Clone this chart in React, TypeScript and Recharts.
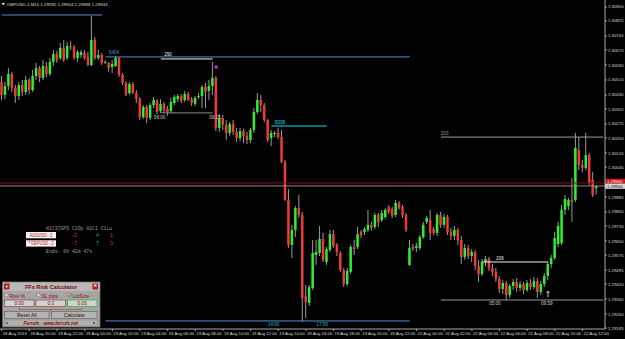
import React from 'react'
import { ComposedChart, Bar, XAxis, YAxis, ReferenceLine, ReferenceDot } from 'recharts'

const FONT = '"Liberation Sans", Arial, sans-serif'
const MONO = '"Liberation Mono", "DejaVu Sans Mono", monospace'

const UP = '#2cf02c'
const DOWN = '#f03a3a'
const WICK = '#9a9a9a'
const AXIS = '#a8a8a8'
const TXT = '#dcdcdc'

const titleText = 'GBPUSD-2,M15  1.29932 1.29944 1.29898 1.29944'

// time labels, one every 8 bars (2 hours of M15)
const xTickLabels = [
  '18 Aug 2016', '18 Aug 20:00', '18 Aug 22:00', '19 Aug 00:00', '19 Aug 02:00', '19 Aug 04:00',
  '19 Aug 06:00', '19 Aug 08:00', '19 Aug 10:00', '19 Aug 12:00', '19 Aug 14:00', '19 Aug 16:00',
  '19 Aug 18:00', '19 Aug 20:00', '19 Aug 22:00', '22 Aug 00:00', '22 Aug 02:00', '22 Aug 04:00',
  '22 Aug 06:00', '22 Aug 08:00', '22 Aug 10:00', '22 Aug 12:00',
]

const priceTicks = [
  1.309, 1.30825, 1.30745, 1.3067, 1.3059, 1.3051, 1.3043, 1.30355, 1.30275, 1.302, 1.3012,
  1.30045, 1.29885, 1.29805, 1.2973, 1.2965, 1.29575, 1.29495, 1.2942, 1.2934, 1.2926, 1.29185,
]

const opens = [
  1.30499, 1.30430, 1.30478, 1.30542, 1.30467, 1.30424, 1.30483, 1.30446, 1.30510, 1.30456,
  1.30531, 1.30574, 1.30521, 1.30585, 1.30542, 1.30606, 1.30649, 1.30627, 1.30681, 1.30627,
  1.30691, 1.30686, 1.30627, 1.30643, 1.30654, 1.30633, 1.30590, 1.30723, 1.30627, 1.30643,
  1.30601, 1.30601, 1.30579, 1.30585, 1.30627, 1.30537, 1.30494, 1.30440, 1.30488, 1.30440,
  1.30408, 1.30312, 1.30366, 1.30307, 1.30376, 1.30398, 1.30344, 1.30382, 1.30355, 1.30344,
  1.30387, 1.30408, 1.30424, 1.30403, 1.30435, 1.30408, 1.30382, 1.30419, 1.30424, 1.30472,
  1.30451, 1.30478, 1.30521, 1.30254, 1.30307, 1.30270, 1.30227, 1.30275, 1.30232, 1.30200,
  1.30237, 1.30211, 1.30189, 1.30243, 1.30339, 1.30403, 1.30376, 1.30296, 1.30200, 1.30221,
  1.30227, 1.30205, 1.30072, 1.29869, 1.29629, 1.29709, 1.29826, 1.29789, 1.29356, 1.29319,
  1.29399, 1.29575, 1.29586, 1.29661, 1.29538, 1.29602, 1.29687, 1.29629, 1.29586, 1.29495,
  1.29420, 1.29485, 1.29618, 1.29618, 1.29698, 1.29698, 1.29709, 1.29736, 1.29725, 1.29789,
  1.29762, 1.29778, 1.29832, 1.29821, 1.29789, 1.29853, 1.29832, 1.29789, 1.29522, 1.29618,
  1.29613, 1.29613, 1.29671, 1.29752, 1.29762, 1.29714, 1.29693, 1.29789, 1.29736, 1.29778,
  1.29698, 1.29677, 1.29709, 1.29655, 1.29565, 1.29613, 1.29570, 1.29591, 1.29517, 1.29474,
  1.29538, 1.29554, 1.29506, 1.29485, 1.29447, 1.29394, 1.29426, 1.29362, 1.29410, 1.29431,
  1.29399, 1.29420, 1.29388, 1.29426, 1.29404, 1.29436, 1.29378, 1.29420, 1.29463, 1.29527,
  1.29559, 1.29634, 1.29639, 1.29816, 1.29837, 1.29869, 1.29869, 1.30136, 1.30056, 1.30040,
  1.30109, 1.29976, 1.29932,
]

const highs = [
  1.30531, 1.30499, 1.30574, 1.30553, 1.30483, 1.30499, 1.30510, 1.30531, 1.30521, 1.30563,
  1.30601, 1.30585, 1.30617, 1.30606, 1.30627, 1.30670, 1.30665, 1.30707, 1.30723, 1.30713,
  1.30718, 1.30697, 1.30670, 1.30670, 1.30670, 1.30659, 1.30852, 1.30739, 1.30670, 1.30654,
  1.30617, 1.30606, 1.30617, 1.30638, 1.30633, 1.30547, 1.30504, 1.30499, 1.30499, 1.30456,
  1.30419, 1.30376, 1.30376, 1.30387, 1.30419, 1.30408, 1.30408, 1.30392, 1.30371, 1.30414,
  1.30430, 1.30435, 1.30435, 1.30451, 1.30446, 1.30419, 1.30424, 1.30440, 1.30483, 1.30494,
  1.30510, 1.30606, 1.30531, 1.30328, 1.30323, 1.30296, 1.30286, 1.30296, 1.30254, 1.30254,
  1.30248, 1.30232, 1.30254, 1.30360, 1.30440, 1.30430, 1.30387, 1.30302, 1.30243, 1.30237,
  1.30254, 1.30243, 1.30083, 1.29928, 1.29736, 1.29837, 1.29896, 1.29805, 1.29415, 1.29415,
  1.29655, 1.29655, 1.29730, 1.29693, 1.29618, 1.29709, 1.29709, 1.29639, 1.29597, 1.29506,
  1.29506, 1.29629, 1.29655, 1.29725, 1.29709, 1.29725, 1.29816, 1.29752, 1.29800, 1.29800,
  1.29816, 1.29826, 1.29842, 1.29832, 1.29869, 1.29864, 1.29842, 1.29800, 1.29655, 1.29634,
  1.29639, 1.29682, 1.29752, 1.29784, 1.29816, 1.29725, 1.29800, 1.29805, 1.29794, 1.29789,
  1.29720, 1.29730, 1.29720, 1.29677, 1.29634, 1.29629, 1.29607, 1.29602, 1.29549, 1.29554,
  1.29570, 1.29565, 1.29527, 1.29506, 1.29463, 1.29442, 1.29436, 1.29420, 1.29447, 1.29452,
  1.29436, 1.29431, 1.29442, 1.29447, 1.29458, 1.29452, 1.29436, 1.29479, 1.29538, 1.29575,
  1.29698, 1.29752, 1.29842, 1.29896, 1.29880, 1.29987, 1.30227, 1.30205, 1.30083, 1.30227,
  1.30120, 1.30019, 1.29944,
]

const lows = [
  1.30403, 1.30408, 1.30456, 1.30446, 1.30387, 1.30403, 1.30424, 1.30430, 1.30435, 1.30446,
  1.30510, 1.30499, 1.30510, 1.30526, 1.30531, 1.30585, 1.30601, 1.30617, 1.30606, 1.30617,
  1.30670, 1.30617, 1.30606, 1.30627, 1.30617, 1.30585, 1.30585, 1.30617, 1.30617, 1.30590,
  1.30595, 1.30553, 1.30547, 1.30579, 1.30526, 1.30483, 1.30424, 1.30430, 1.30435, 1.30387,
  1.30296, 1.30302, 1.30280, 1.30296, 1.30360, 1.30328, 1.30334, 1.30334, 1.30318, 1.30334,
  1.30376, 1.30392, 1.30387, 1.30392, 1.30398, 1.30371, 1.30371, 1.30408, 1.30360, 1.30360,
  1.30403, 1.30430, 1.30237, 1.30232, 1.30243, 1.30189, 1.30211, 1.30216, 1.30179, 1.30184,
  1.30173, 1.30168, 1.30173, 1.30227, 1.30328, 1.30339, 1.30286, 1.30179, 1.30157, 1.30205,
  1.30195, 1.30067, 1.29864, 1.29613, 1.29559, 1.29671, 1.29773, 1.29218, 1.29239, 1.29303,
  1.29388, 1.29522, 1.29570, 1.29538, 1.29522, 1.29591, 1.29613, 1.29570, 1.29485, 1.29404,
  1.29410, 1.29474, 1.29575, 1.29607, 1.29666, 1.29682, 1.29698, 1.29703, 1.29714, 1.29725,
  1.29752, 1.29768, 1.29794, 1.29773, 1.29778, 1.29816, 1.29773, 1.29698, 1.29517, 1.29597,
  1.29591, 1.29602, 1.29661, 1.29741, 1.29655, 1.29682, 1.29677, 1.29720, 1.29720, 1.29682,
  1.29655, 1.29655, 1.29629, 1.29527, 1.29549, 1.29554, 1.29538, 1.29495, 1.29431, 1.29463,
  1.29517, 1.29490, 1.29463, 1.29431, 1.29372, 1.29367, 1.29335, 1.29346, 1.29388, 1.29378,
  1.29383, 1.29367, 1.29378, 1.29388, 1.29394, 1.29346, 1.29362, 1.29404, 1.29442, 1.29506,
  1.29549, 1.29618, 1.29629, 1.29789, 1.29816, 1.29752, 1.29858, 1.30029, 1.30019, 1.30029,
  1.29949, 1.29885, 1.29898,
]

const closes = [
  1.30430, 1.30478, 1.30542, 1.30467, 1.30424, 1.30483, 1.30446, 1.30510, 1.30456, 1.30531,
  1.30574, 1.30521, 1.30585, 1.30542, 1.30606, 1.30649, 1.30617, 1.30681, 1.30617, 1.30691,
  1.30686, 1.30627, 1.30659, 1.30659, 1.30627, 1.30590, 1.30723, 1.30627, 1.30643, 1.30601,
  1.30606, 1.30574, 1.30595, 1.30627, 1.30537, 1.30494, 1.30430, 1.30488, 1.30440, 1.30408,
  1.30312, 1.30366, 1.30307, 1.30376, 1.30403, 1.30339, 1.30382, 1.30350, 1.30339, 1.30392,
  1.30419, 1.30424, 1.30398, 1.30435, 1.30403, 1.30387, 1.30414, 1.30424, 1.30472, 1.30446,
  1.30478, 1.30521, 1.30254, 1.30307, 1.30270, 1.30227, 1.30275, 1.30232, 1.30200, 1.30237,
  1.30211, 1.30189, 1.30243, 1.30339, 1.30403, 1.30376, 1.30296, 1.30189, 1.30227, 1.30227,
  1.30205, 1.30072, 1.29869, 1.29629, 1.29709, 1.29826, 1.29789, 1.29346, 1.29324, 1.29404,
  1.29586, 1.29591, 1.29661, 1.29549, 1.29607, 1.29687, 1.29623, 1.29591, 1.29495, 1.29420,
  1.29490, 1.29618, 1.29607, 1.29687, 1.29682, 1.29714, 1.29736, 1.29720, 1.29789, 1.29752,
  1.29800, 1.29816, 1.29805, 1.29784, 1.29853, 1.29826, 1.29789, 1.29709, 1.29613, 1.29607,
  1.29623, 1.29671, 1.29736, 1.29773, 1.29693, 1.29693, 1.29789, 1.29736, 1.29778, 1.29698,
  1.29677, 1.29709, 1.29655, 1.29565, 1.29613, 1.29570, 1.29591, 1.29517, 1.29474, 1.29538,
  1.29554, 1.29506, 1.29485, 1.29447, 1.29394, 1.29426, 1.29362, 1.29410, 1.29431, 1.29399,
  1.29420, 1.29388, 1.29426, 1.29404, 1.29436, 1.29378, 1.29420, 1.29463, 1.29527, 1.29559,
  1.29666, 1.29730, 1.29816, 1.29874, 1.29869, 1.29858, 1.30147, 1.30056, 1.30040, 1.30109,
  1.29960, 1.29896, 1.29944,
]

const bid = 1.29944
const ask = 1.2996
const SLOTS = 175 // bars plus the empty room before the price scale

const data = Array.from({ length: SLOTS }, (_, i) =>
  i < closes.length
    ? { i, o: opens[i], h: highs[i], l: lows[i], c: closes[i], range: [lows[i], highs[i]] }
    : { i }
)

function Candle(props: any) {
  const { x, y, width, height, payload } = props
  if (payload == null || payload.o == null) return null
  const top = Math.min(y, y + height)
  const full = Math.abs(height)
  const cx = x + width / 2
  const span = payload.h - payload.l
  const k = span > 0 ? full / span : 0
  const yo = top + (payload.h - payload.o) * k
  const yc = top + (payload.h - payload.c) * k
  const up = payload.c >= payload.o
  return (
    <g>
      <line x1={cx} x2={cx} y1={top} y2={top + full} stroke={WICK} strokeWidth={1} />
      <rect x={cx - 1.25} y={Math.min(yo, yc)} width={2.5} height={Math.max(Math.abs(yc - yo), 0.9)} fill={up ? UP : DOWN} />
    </g>
  )
}

function TimeTick({ x, y, payload }: any) {
  const label = xTickLabels[payload.value / 8]
  if (!label) return null
  return (
    <text x={x + 1} y={y + 3.2} fontSize={4.3} fill={TXT} fontFamily={FONT}>
      {label}
    </text>
  )
}

const note = (text: string, color: string, size = 4.6) => (p: any) => (
  <text x={p.cx} y={p.cy} fill={color} fontSize={size} fontFamily={FONT}>
    {text}
  </text>
)

const priceTag = (text: string, bg: string, fg: string, dy: number) => (p: any) => {
  const vb = p.viewBox
  const x = vb.x + vb.width
  return (
    <g>
      <rect x={x} y={vb.y + dy} width={20} height={5.2} fill={bg} />
      <text x={x + 2} y={vb.y + dy + 4.1} fontSize={4.3} fill={fg} fontFamily={FONT}>
        {text}
      </text>
    </g>
  )
}

function Overlays() {
  return (
    <svg width={625} height={339} style={{ position: 'absolute', left: 0, top: 0, pointerEvents: 'none' }}>
      {/* title */}
      <path d="M1.5 3 L5 3 L3.25 5.5 Z" fill="#e0e0e0" />
      <text x={7} y={6.2} fontSize={4.4} fill={TXT} fontFamily={FONT}>{titleText}</text>

      {/* symbol strength block */}
      <g fontFamily={MONO} fontSize={4.8}>
        <text x={46} y={230} fill="#9c9c9c">H1[3]GPS C1Op H1C1 C1Lo</text>
        <rect x={26} y={232} width={30} height={6.3} fill="#f2f2f2" />
        <text x={41} y={236.9} fill="#e03030" textAnchor="middle">AUDUSD-2</text>
        <rect x={26} y={240.3} width={30} height={6.3} fill="#f2f2f2" />
        <text x={41} y={245.2} fill="#e03030" textAnchor="middle">*GBPUSD-2</text>
        <text x={71} y={237} fill="#e03030">-2</text>
        <text x={96} y={237} fill="#22c022">4</text>
        <text x={110} y={237} fill="#e03030">1</text>
        <text x={71} y={245.3} fill="#e03030">-7</text>
        <text x={96} y={245.3} fill="#22c022">7</text>
        <text x={110} y={245.3} fill="#e03030">3</text>
        <text x={46} y={253} fill="#9c9c9c">Ends: 0h 42m 47s</text>
      </g>

      {/* risk calculator panel */}
      <g fontFamily={FONT}>
        <rect x={2.5} y={282} width={97.5} height={45} fill="#a6a6a6" stroke="#6a6a6a" strokeWidth={0.8} />
        <rect x={3} y={282.5} width={96.5} height={8.5} fill="#b9b9b9" />
        <rect x={4} y={283.5} width={5.5} height={6} fill="#b01e1e" />
        <circle cx={6.75} cy={286.5} r={1} fill="#f0f0f0" />
        <rect x={92.5} y={283.5} width={5.5} height={6} fill="#b01e1e" />
        <rect x={94} y={284.5} width={2.5} height={2} fill="#f0f0f0" />
        <text x={51} y={289} fontSize={5.6} fontWeight="bold" fill="#7a0a0a" textAnchor="middle">FFx Risk Calculator</text>

        <rect x={5} y={293.5} width={3} height={3} fill="#d8d8d8" stroke="#6a6a6a" strokeWidth={0.4} />
        <text x={9.5} y={297.5} fontSize={5} fill="#8e1010">Risk %</text>
        <rect x={37} y={293.5} width={3} height={3} fill="#d8d8d8" stroke="#6a6a6a" strokeWidth={0.4} />
        <text x={41.5} y={297.5} fontSize={5} fill="#8e1010">SL pips</text>
        <rect x={68} y={293.5} width={3} height={3} fill="#d8d8d8" stroke="#6a6a6a" strokeWidth={0.4} />
        <path d="M68.5 295 L69.5 296.2 L71.2 293.8" stroke="#202020" strokeWidth={0.6} fill="none" />
        <text x={72.5} y={297.5} fontSize={5} fill="#8e1010">LotSize</text>

        <rect x={4.5} y={300} width={29.5} height={6.5} fill="#d2d2d2" stroke="#8e3030" strokeWidth={0.6} />
        <text x={19.25} y={305} fontSize={4.8} fill="#7a0a0a" textAnchor="middle">0.00</text>
        <rect x={36} y={300} width={29.5} height={6.5} fill="#d2d2d2" stroke="#8e3030" strokeWidth={0.6} />
        <text x={50.75} y={305} fontSize={4.8} fill="#7a0a0a" textAnchor="middle">0.0</text>
        <rect x={67.5} y={300} width={29.5} height={6.5} fill="#d2d2d2" stroke="#22c022" strokeWidth={0.8} />
        <text x={82.25} y={305} fontSize={4.8} fill="#7a0a0a" textAnchor="middle">0.00</text>

        <path d="M19 307.5 V309.5 H82 V307.5 M50.5 309.5 V311" stroke="#8e3030" strokeWidth={0.5} fill="none" />

        <rect x={4.5} y={311.5} width={44.5} height={7} fill="#b4b4b4" stroke="#5a5a5a" strokeWidth={0.6} />
        <text x={26.75} y={316.8} fontSize={5} fill="#3a0505" textAnchor="middle">Reset All</text>
        <rect x={51.5} y={311.5} width={45.5} height={7} fill="#b4b4b4" stroke="#5a5a5a" strokeWidth={0.6} />
        <text x={74.25} y={316.8} fontSize={5} fill="#3a0505" textAnchor="middle">Calculate</text>

        <rect x={4.5} y={320} width={92.5} height={6} fill="#b0b0b0" stroke="#8a8a8a" strokeWidth={0.5} />
        <rect x={6} y={322.3} width={2} height={1.5} fill="#b01e1e" />
        <rect x={93} y={322.3} width={2} height={1.5} fill="#b01e1e" />
        <text x={50.75} y={324.7} fontSize={4.6} fontWeight="bold" fontStyle="italic" fill="#8e0a0a" textAnchor="middle">
          Ferrufx - www.ferrufx.net
        </text>
      </g>
    </svg>
  )
}

export default function App() {
  return (
    <div style={{ position: 'absolute', left: 0, top: 0, width: 625, height: 339, background: '#000', overflow: 'hidden' }}>
      <ComposedChart width={625} height={339} data={data} margin={{ top: 0, right: 0, bottom: 0, left: 0 }} barCategoryGap={0}>
        <XAxis
          dataKey="i"
          interval={7}
          height={10}
          tick={<TimeTick />}
          tickSize={2}
          tickMargin={1}
          tickLine={{ stroke: AXIS }}
          axisLine={{ stroke: AXIS }}
        />
        <YAxis
          orientation="right"
          width={20}
          type="number"
          domain={[1.2918, 1.30937]}
          allowDataOverflow
          ticks={priceTicks}
          interval={0}
          tickFormatter={(v: number) => v.toFixed(5)}
          tick={{ fontSize: 4.3, fill: TXT, fontFamily: FONT }}
          tickSize={2}
          tickMargin={1}
          tickLine={{ stroke: AXIS }}
          axisLine={{ stroke: AXIS }}
        />

        <ReferenceLine y={ask} stroke="#8a1010" label={priceTag('1.29960', '#c81414', '#ffffff', -4.2)} />
        <ReferenceLine y={bid} stroke="#8c8c8c" label={priceTag('1.29944', '#d8d8d8', '#000000', -2.3)} />

        <ReferenceLine segment={[{ x: 0, y: 1.30857 }, { x: 29, y: 1.30857 }]} stroke="#4d8fd6" />
        <ReferenceLine segment={[{ x: 30, y: 1.30633 }, { x: 118, y: 1.30633 }]} stroke="#4d8fd6" />
        <ReferenceLine segment={[{ x: 46, y: 1.30622 }, { x: 61, y: 1.30622 }]} stroke="#f0f0f0" />
        <ReferenceLine segment={[{ x: 46, y: 1.30334 }, { x: 61, y: 1.30334 }]} stroke="#8c8c8c" />
        <ReferenceLine segment={[{ x: 78, y: 1.30264 }, { x: 94, y: 1.30264 }]} stroke="#10e0f0" />
        <ReferenceLine segment={[{ x: 127, y: 1.30205 }, { x: 174, y: 1.30205 }]} stroke="#9a9a9a" />
        <ReferenceLine segment={[{ x: 127, y: 1.29335 }, { x: 174, y: 1.29335 }]} stroke="#9a9a9a" />
        <ReferenceLine segment={[{ x: 139, y: 1.29538 }, { x: 158, y: 1.29538 }]} stroke="#f0f0f0" />
        <ReferenceLine segment={[{ x: 30, y: 1.29223 }, { x: 118, y: 1.29223 }]} stroke="#4d8fd6" />

        <Bar dataKey="range" shape={<Candle />} isAnimationActive={false} />

        <ReferenceDot x={31} y={1.30649} shape={note('5404', '#4d8fd6')} />
        <ReferenceDot x={47} y={1.30638} shape={note('290', '#f0f0f0')} />
        <ReferenceDot x={44} y={1.30302} shape={note('06:00', '#cfcfcf')} />
        <ReferenceDot x={60} y={1.30302} shape={note('09:15', '#cfcfcf')} />
        <ReferenceDot x={79} y={1.30275} shape={note('5036', '#10e0f0')} />
        <ReferenceDot x={127} y={1.30216} shape={note('333', '#9a9a9a')} />
        <ReferenceDot x={143} y={1.29549} shape={note('206', '#f0f0f0')} />
        <ReferenceDot x={141} y={1.29308} shape={note('05:00', '#cfcfcf')} />
        <ReferenceDot x={156} y={1.29308} shape={note('09:59', '#cfcfcf')} />
        <ReferenceDot x={77} y={1.29196} shape={note('14:00', '#22b8c0')} />
        <ReferenceDot x={91} y={1.29196} shape={note('17:59', '#22b8c0')} />
        <ReferenceDot x={62} y={1.30579} shape={(p: any) => (
          <path d={`M${p.cx - 2} ${p.cy} H${p.cx + 2} M${p.cx} ${p.cy - 2} V${p.cy + 2}`} stroke="#d040e0" strokeWidth={1.2} />
        )} />
        <ReferenceDot x={158} y={1.29367} shape={(p: any) => (
          <path d={`M${p.cx} ${p.cy + 3} V${p.cy - 2.5} M${p.cx - 1.5} ${p.cy - 1} L${p.cx} ${p.cy - 2.8} L${p.cx + 1.5} ${p.cy - 1}`} stroke="#f0f0f0" strokeWidth={0.8} fill="none" />
        )} />
      </ComposedChart>
      <Overlays />
    </div>
  )
}
